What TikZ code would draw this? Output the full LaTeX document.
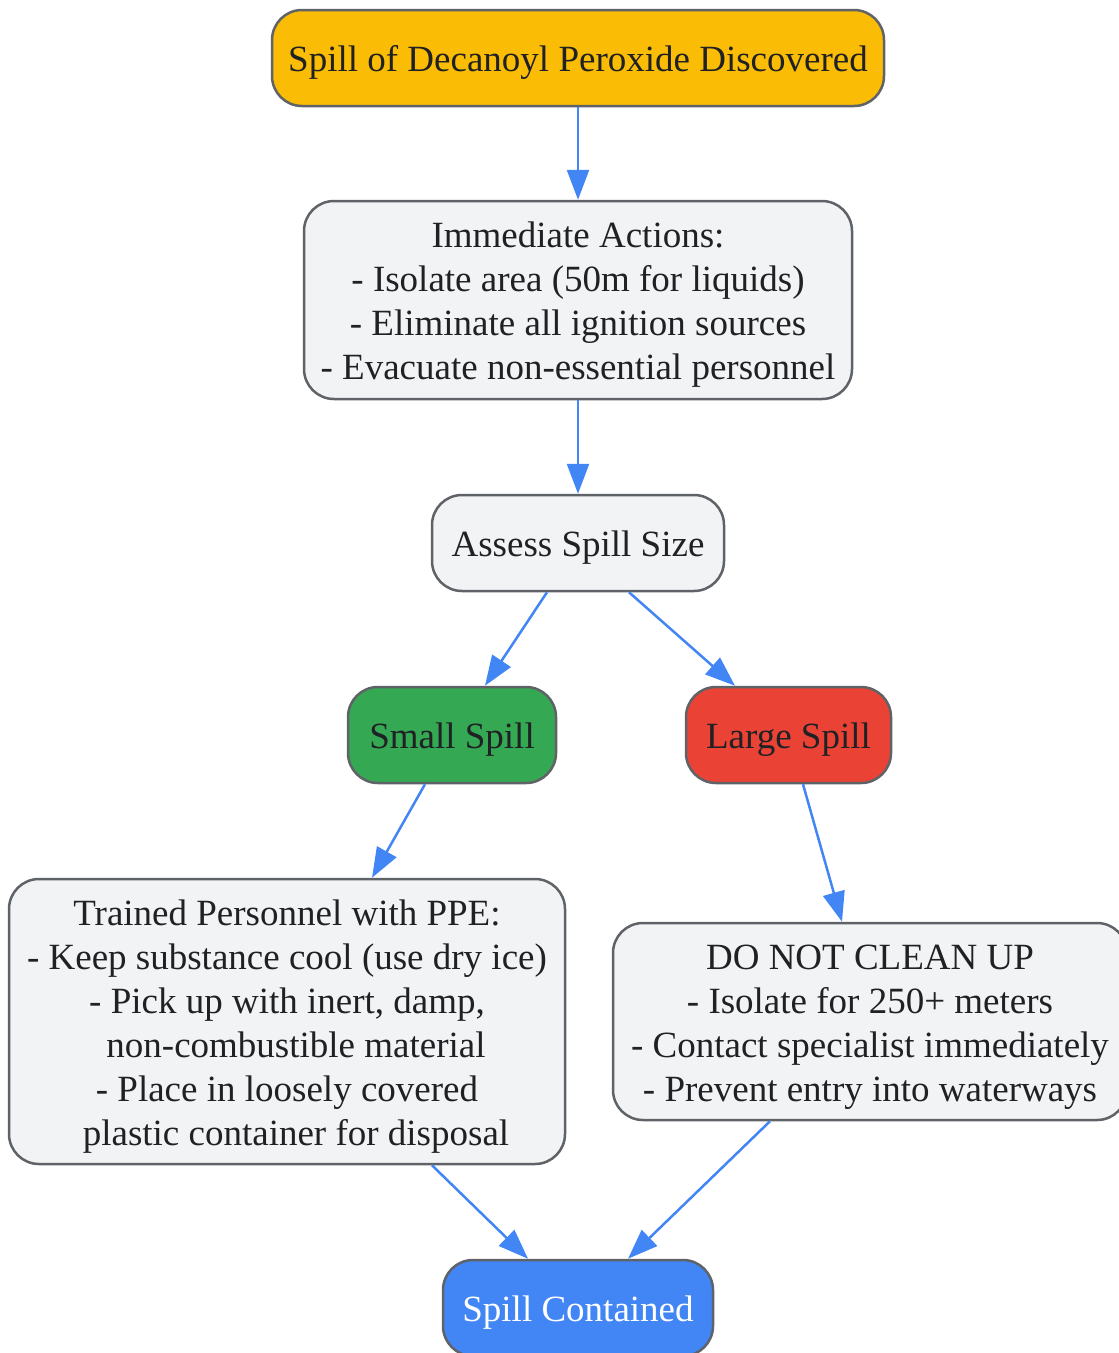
\documentclass[tikz,border=0pt]{standalone}
\usepackage{fontspec}
\setmainfont{Liberation Serif}
\usetikzlibrary{arrows.meta}
\definecolor{cOrange}{HTML}{FBBC05}
\definecolor{cGray}{HTML}{F1F3F4}
\definecolor{cStroke}{HTML}{5F6368}
\definecolor{cGreen}{HTML}{34A853}
\definecolor{cRed}{HTML}{EA4335}
\definecolor{cBlue}{HTML}{4285F4}
\definecolor{cText}{HTML}{202124}
\newcommand\tsh{\rule{0pt}{35pt}}
\begin{document}
\begin{tikzpicture}[x=1pt,y=-1pt,
  box/.style={draw=cStroke, line width=2.5pt, rounded corners=30pt, inner sep=0pt,
    align=center, text=cText, font=\fontsize{37}{44}\selectfont, fill=cGray},
  conn/.style={draw=cBlue, line width=2.5pt, -{Triangle[length=30pt,width=22pt]}}]
\useasboundingbox (0,0) rectangle (1119,1353);
\node[box, fill=cOrange, minimum width=612pt, minimum height=96pt] (top) at (578,58) {\tsh Spill of Decanoyl Peroxide Discovered};
\node[box, minimum width=548pt, minimum height=198pt] (imm) at (578,300) {\tsh Immediate Actions:\\- Isolate area (50m for liquids)\\- Eliminate all ignition sources\\- Evacuate non-essential personnel};
\node[box, minimum width=292pt, minimum height=96pt] (assess) at (578,543) {\tsh Assess Spill Size};
\node[box, fill=cGreen, minimum width=208pt, minimum height=96pt] (small) at (452,735) {\tsh Small Spill};
\node[box, fill=cRed, minimum width=205pt, minimum height=96pt] (large) at (788.5,735) {\tsh Large Spill};
\node[box, minimum width=556pt, minimum height=285pt] (trained) at (287,1021.5) {\tsh Trained Personnel with PPE:\\- Keep substance cool (use dry ice)\\- Pick up with inert, damp,\\\hspace*{18pt}non-combustible material\\- Place in loosely covered\\\hspace*{18pt}plastic container for disposal};
\node[box, minimum width=514pt, minimum height=197pt] (donot) at (870,1021.5) {\tsh DO NOT CLEAN UP\\- Isolate for 250+ meters\\- Contact specialist immediately\\- Prevent entry into waterways};
\node[box, fill=cBlue, text=white, minimum width=270pt, minimum height=96pt] (cont) at (578,1308) {\tsh Spill Contained};
\draw[conn] (top.south) -- (imm.north);
\draw[conn] (imm.south) -- (assess.north);
\draw[conn] ([xshift=-31pt]assess.south) -- ([xshift=33pt]small.north);
\draw[conn] ([xshift=51pt]assess.south) -- ([xshift=-53.5pt]large.north);
\draw[conn] ([xshift=-27pt]small.south) -- ([xshift=85pt]trained.north);
\draw[conn] ([xshift=14.5pt]large.south) -- ([xshift=-28pt]donot.north);
\draw[conn] ([xshift=145pt]trained.south) -- ([xshift=-50pt]cont.north);
\draw[conn] ([xshift=-100pt]donot.south) -- ([xshift=50pt]cont.north);
\end{tikzpicture}
\end{document}
